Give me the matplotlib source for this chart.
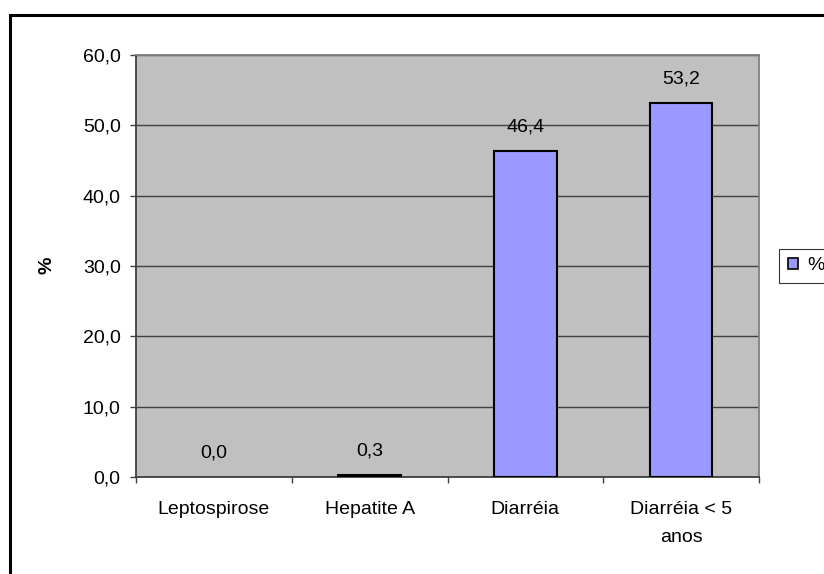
import numpy as np
import matplotlib
matplotlib.use('Agg')
import matplotlib.pyplot as plt
from matplotlib.patches import Rectangle, Patch

plt.rcParams['font.family'] = ['Liberation Sans', 'DejaVu Sans']

# disease categories and their share (%)
categories = ['Leptospirose', 'Hepatite A', 'Diarréia', 'Diarréia < 5\nanos']
values = [0.0, 0.3, 46.4, 53.2]
yticks = [0, 10, 20, 30, 40, 50, 60]
series_name = '%'

W, H = 824, 574
fs = 14
fig = plt.figure(figsize=(W/100.0, H/100.0), dpi=100)
ax = fig.add_axes([136/W, 1-477/H, (759-136)/W, (477-55)/H])
ax.set_facecolor('#c0c0c0')

x = np.arange(len(categories))
bars = ax.bar(x, values, width=0.4, color='#9999ff', edgecolor='black', linewidth=1.5,
              zorder=3, label=series_name)
# a zero-height bar leaves no outline
for b, v in zip(bars, values):
    if v == 0:
        b.set_visible(False)

for xi, v in zip(x, values):
    ax.annotate(('%.1f' % v).replace('.', ','), (xi, v), xytext=(0, 11),
                textcoords='offset points', ha='center', va='bottom',
                fontsize=fs, zorder=4)

ax.set_xlim(-0.5, len(categories)-0.5)
ax.set_ylim(0, 60)
ax.set_yticks(yticks)
ax.set_yticklabels([('%.1f' % t).replace('.', ',') for t in yticks], fontsize=fs)
ax.yaxis.grid(True, color='#404040', linewidth=1, zorder=1)
ax.set_axisbelow(True)

ax.set_xticks(x)
ax.set_xticklabels(categories, fontsize=fs, linespacing=1.85, va='top')
ax.set_xticks(np.arange(len(categories)+1)-0.5, minor=True)
ax.tick_params(axis='x', which='major', length=0, pad=17.5)
ax.tick_params(axis='x', which='minor', length=4, width=1, color='#404040')
ax.tick_params(axis='y', length=4, width=1, color='#404040', pad=7)

for s in ['left', 'bottom']:
    ax.spines[s].set_color('#404040')
    ax.spines[s].set_linewidth(1.3)
for s in ['top', 'right']:
    ax.spines[s].set_color('#808080')
    ax.spines[s].set_linewidth(1.3)

fig.text(47/W, 1-265/H, '%', rotation=90, ha='center', va='center', fontsize=fs,
         fontweight='bold')

leg = fig.legend(handles=[Patch(facecolor='#9999ff', edgecolor='black', linewidth=1.2,
                                label=series_name)],
                 loc='center left', bbox_to_anchor=(779/W, 1-266/H),
                 fontsize=fs, frameon=True, fancybox=False, borderaxespad=0,
                 handlelength=0.55, handleheight=0.55, handletextpad=0.45,
                 borderpad=0.45)
leg.get_frame().set_edgecolor('black')
leg.get_frame().set_linewidth(0.8)

# chart area border, running off the right and bottom
fig.patches.append(Rectangle((10/W, -0.1), 1.2, (H-15)/H + 0.1, transform=fig.transFigure,
                             fill=False, edgecolor='black', linewidth=2.2, clip_on=False))

fig.savefig('out.png', dpi=100)
